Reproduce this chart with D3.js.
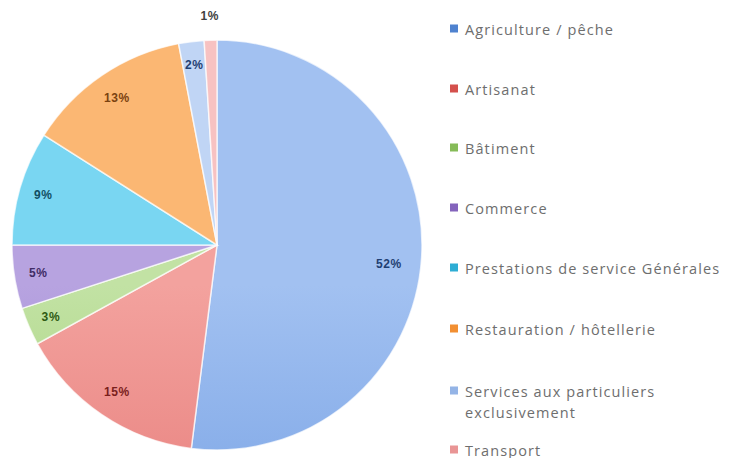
<!DOCTYPE html>
<html><head><meta charset="utf-8">
<script src="https://cdn.jsdelivr.net/npm/d3@7"></script>
<style>body{margin:0;background:#fff}svg{display:block}</style>
</head><body>
<svg id="c" width="730" height="458"></svg>
<script>
const categories = ["Agriculture / pêche","Artisanat","Bâtiment","Commerce","Prestations de service Générales","Restauration / hôtellerie","Services aux particuliers exclusivement","Transport"];
const values = [52,15,3,5,9,13,2,1];
const lightColors = ["#a2c1f1","#f3a29e","#c2e2a4","#b7a3e0","#79d6f2","#fbb773","#c0d5f5","#f7c2c2"];
const midColors   = ["#84abe8","#ea8784","#a9d47f","#a189d2","#55c8eb","#f8a552","#adc8ef","#f2adad"];
const darkColors  = ["#4f82cf","#d4504c","#86bb58","#8464bc","#2eadd4","#f28f32","#94b4e6","#e99595"];
const labelColors = ["#1f3f73","#7a1f1d","#2d5a12","#3f2c66","#124e63","#7a4210","#1f3f73","#404040"];
const legendLines = [["Agriculture / pêche"],["Artisanat"],["Bâtiment"],["Commerce"],["Prestations de service Générales"],["Restauration / hôtellerie"],["Services aux particuliers","exclusivement"],["Transport"]];

const svg = d3.select("#c");
const cx = 217, cy = 245, r = 205;
const defs = svg.append("defs");
categories.forEach((c,i)=>{
  const g = defs.append("linearGradient").attr("id","g"+i).attr("gradientUnits","userSpaceOnUse")
    .attr("x1",0).attr("y1",cy-r).attr("x2",0).attr("y2",cy+r);
  g.append("stop").attr("offset","0").attr("stop-color",lightColors[i]);
  g.append("stop").attr("offset","0.5").attr("stop-color",midColors[i]);
  g.append("stop").attr("offset","1").attr("stop-color",darkColors[i]);
});
const data = categories.map((c,i)=>({c, v:values[i], i}));
const pie = d3.pie().value(d=>d.v).sort(null);
const arc = d3.arc().innerRadius(0).outerRadius(r);
const arcs = pie(data);
const g = svg.append("g").attr("transform",`translate(${cx},${cy})`);
g.selectAll("path").data(arcs).join("path")
  .attr("d",arc).attr("fill",d=>`url(#g${d.data.i})`)
  .attr("stroke","#ffffff").attr("stroke-width",1.5).attr("stroke-opacity",0.7);

const fmt = d=>d.data.v+"%";
g.selectAll("text.lbl").data(arcs).join("text").attr("class","lbl")
  .attr("transform",d=>{
    let a=(d.startAngle+d.endAngle)/2;
    let rr = r-24;
    if (d.data.i===7) rr = r+24;
    if (d.data.i===0) { rr = 173; a += 0.05; }
    if (d.data.i===1 || d.data.i===5) rr = 178;
    return `translate(${Math.sin(a)*rr},${-Math.cos(a)*rr})`;
  })
  .attr("text-anchor","middle").attr("dominant-baseline","central")
  .attr("font-family","Liberation Sans, Arial, sans-serif").attr("font-size",12).attr("font-weight","bold")
  .attr("letter-spacing",0.6)
  .attr("fill",d=>labelColors[d.data.i]).text(fmt);

const rowY = [29,89,148,208,268,329,391,450];
const lg = svg.append("g").attr("font-family","Open Sans, DejaVu Sans, sans-serif").attr("font-size",14.5).attr("letter-spacing",1.1).attr("fill","#6e6e6e");
legendLines.forEach((lines,i)=>{
  lg.append("rect").attr("x",450).attr("y",rowY[i]-4.5).attr("width",8).attr("height",8).attr("fill",darkColors[i]);
  lines.forEach((t,j)=>{
    lg.append("text").attr("x",465).attr("y",rowY[i]+j*21).attr("dominant-baseline","central").text(t);
  });
});
</script>
</body></html>
